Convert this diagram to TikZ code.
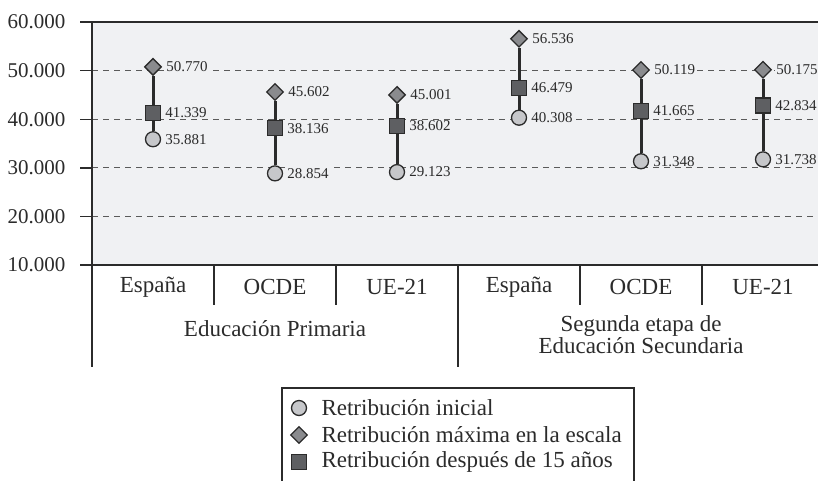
\documentclass[tikz,border=0pt]{standalone}
\usepackage{amsmath}
\usepackage{fontspec}
\setmainfont{Liberation Serif}
\usepackage{tikz}
\usetikzlibrary{positioning, calc, shapes.geometric}
\definecolor{panelgray}{HTML}{F0F1F3}
\definecolor{inkgray}{HTML}{2B2B2B}
\definecolor{gridgray}{HTML}{5A5A5A}
\definecolor{inicolor}{HTML}{C6C7CA}
\definecolor{maxcolor}{HTML}{8A8B8E}
\definecolor{midcolor}{HTML}{5E5F62}
\tikzstyle{Ini} = [circle, draw=inkgray, fill=inicolor, line width=1.3pt,
	minimum size=15pt, inner sep=0pt]
\tikzstyle{Max} = [diamond, aspect=1, draw=inkgray, fill=maxcolor, line width=1.3pt,
	minimum size=17pt, inner sep=0pt]
\tikzstyle{Mid} = [rectangle, draw=inkgray, fill=midcolor, line width=1.3pt,
	minimum size=15pt, inner sep=0pt]
\tikzstyle{Val} = [font=\fontsize{15}{18}\selectfont, text=inkgray, fill=panelgray,
	inner sep=1pt]
\tikzstyle{Bar} = [line width=3pt, draw=inkgray]
\tikzstyle{Axis} = [line width=1.4pt, draw=inkgray]
\tikzstyle{Grid} = [line width=1pt, draw=gridgray, dash pattern=on 6pt off 5pt]
\tikzstyle{Num} = [font=\fontsize{21}{20}\selectfont, text=inkgray]
\tikzstyle{Lbl} = [font=\fontsize{23}{20}\selectfont, text=inkgray, align=center]

\begin{document}
\begin{tikzpicture}[x=1pt, y=-1pt]
	\useasboundingbox (0,0) rectangle (818,480);
	%panel:
		\fill[panelgray] (92,22) rectangle (818,265);
	\begin{scope}[shift={(0,313.6)}, y=4.86pt]
	%grid and axis:
		\draw[Grid] (92,20) -- (818,20);
		\draw[Grid] (92,30) -- (818,30);
		\draw[Grid] (92,40) -- (818,40);
		\draw[Grid] (92,50) -- (818,50);
		\draw[Axis] (80,20) -- (92,20);
		\draw[Axis] (80,30) -- (92,30);
		\draw[Axis] (80,40) -- (92,40);
		\draw[Axis] (80,50) -- (92,50);
		\draw[Axis] (80,60) -- (818,60);
		\draw[Axis] (80,10) -- (818,10);
		\node[Num, anchor=east] (t60) at (69,60) {60.000};
		\node[Num, anchor=east] (t50) at (69,50) {50.000};
		\node[Num, anchor=east] (t40) at (69,40) {40.000};
		\node[Num, anchor=east] (t30) at (69,30) {30.000};
		\node[Num, anchor=east] (t20) at (69,20) {20.000};
		\node[Num, anchor=east] (t10) at (69,10) {10.000};
	%nodes:
		\node[Ini] (i1) at (153,35.881) {};
		\node[Max] (x1) at (153,50.770) {};
		\node[Mid] (m1) at (153,41.339) {};
		\node[Ini] (i2) at (275,28.854) {};
		\node[Max] (x2) at (275,45.602) {};
		\node[Mid] (m2) at (275,38.136) {};
		\node[Ini] (i3) at (397,29.123) {};
		\node[Max] (x3) at (397,45.001) {};
		\node[Mid] (m3) at (397,38.602) {};
		\node[Ini] (i4) at (519,40.308) {};
		\node[Max] (x4) at (519,56.536) {};
		\node[Mid] (m4) at (519,46.479) {};
		\node[Ini] (i5) at (641,31.348) {};
		\node[Max] (x5) at (641,50.119) {};
		\node[Mid] (m5) at (641,41.665) {};
		\node[Ini] (i6) at (763,31.738) {};
		\node[Max] (x6) at (763,50.175) {};
		\node[Mid] (m6) at (763,42.834) {};
	\end{scope}
	%edges:
		\draw[Bar] (i1) -- (m1);
		\draw[Bar] (m1) -- (x1);
		\draw[Bar] (i2) -- (m2);
		\draw[Bar] (m2) -- (x2);
		\draw[Bar] (i3) -- (m3);
		\draw[Bar] (m3) -- (x3);
		\draw[Bar] (i4) -- (m4);
		\draw[Bar] (m4) -- (x4);
		\draw[Bar] (i5) -- (m5);
		\draw[Bar] (m5) -- (x5);
		\draw[Bar] (i6) -- (m6);
		\draw[Bar] (m6) -- (x6);
	%values:
		\node[Val, right=3pt of i1] (vi1) {35.881};
		\node[Val, right=3pt of x1] (vx1) {50.770};
		\node[Val, right=3pt of m1] (vm1) {41.339};
		\node[Val, right=3pt of i2] (vi2) {28.854};
		\node[Val, right=3pt of x2] (vx2) {45.602};
		\node[Val, right=3pt of m2] (vm2) {38.136};
		\node[Val, right=3pt of i3] (vi3) {29.123};
		\node[Val, right=3pt of x3] (vx3) {45.001};
		\node[Val, right=3pt of m3] (vm3) {38.602};
		\node[Val, right=3pt of i4] (vi4) {40.308};
		\node[Val, right=3pt of x4] (vx4) {56.536};
		\node[Val, right=3pt of m4] (vm4) {46.479};
		\node[Val, right=3pt of i5] (vi5) {31.348};
		\node[Val, right=3pt of x5] (vx5) {50.119};
		\node[Val, right=3pt of m5] (vm5) {41.665};
		\node[Val, right=3pt of i6] (vi6) {31.738};
		\node[Val, right=3pt of x6] (vx6) {50.175};
		\node[Val, right=3pt of m6] (vm6) {42.834};
	%categories:
		\draw[Axis] (92,22) -- (92,367);
		\draw[Axis] (458,265) -- (458,367);
		\draw[Axis] (214,265) -- (214,305);
		\draw[Axis] (336,265) -- (336,305);
		\draw[Axis] (580,265) -- (580,305);
		\draw[Axis] (702,265) -- (702,305);
		\node[Lbl] (c1) at (153,287) {España};
		\node[Lbl] (c2) at (275,287) {OCDE};
		\node[Lbl] (c3) at (397,287) {UE-21};
		\node[Lbl] (c4) at (519,287) {España};
		\node[Lbl] (c5) at (641,287) {OCDE};
		\node[Lbl] (c6) at (763,287) {UE-21};
		\node[Lbl] (g1) at (275,329) {Educación Primaria};
		\node[Lbl] (g2) at (641,335) {Segunda etapa de\\Educación Secundaria};
	%legend:
		\draw[Axis, line width=1.2pt] (282,388) rectangle (634,488);
		\node[Ini] (l1) at (299,408) {};
		\node[Max] (l2) at (299,435) {};
		\node[Mid] (l3) at (299,462) {};
		\node[Lbl, anchor=west] (tl1) at (318,408) {Retribución inicial};
		\node[Lbl, anchor=west] (tl2) at (318,435) {Retribución máxima en la escala};
		\node[Lbl, anchor=west] (tl3) at (318,462) {Retribución después de 15 años};
\end{tikzpicture}
\end{document}
